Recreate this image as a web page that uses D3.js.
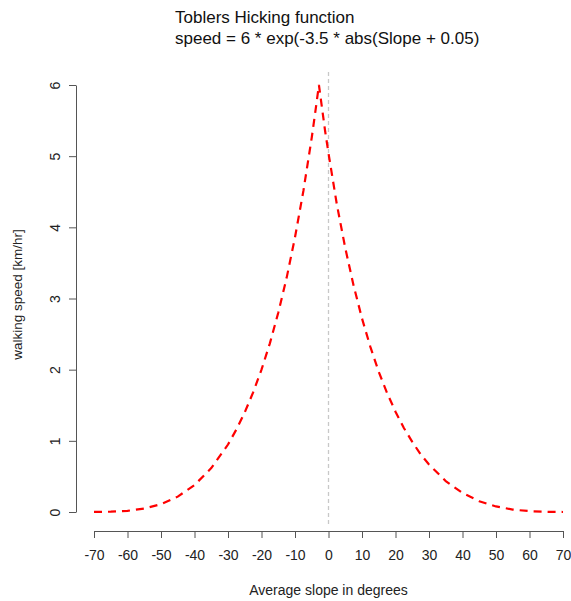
<!DOCTYPE html>
<html>
<head>
<meta charset="utf-8">
<script src="https://cdn.jsdelivr.net/npm/d3@7"></script>
<style>
  body { margin: 0; background: #fff; }
  svg { display: block; font-family: "Liberation Sans", Arial, sans-serif; }
</style>
</head>
<body>
<svg id="chart" width="571" height="601"></svg>
<script>
// slope (degrees) and walking speed (km/hr)
const slopes = [-70, -65, -60, -55, -50, -45, -40, -35, -30, -27.5, -25, -22.5, -20, -17.5, -15, -12.5, -10, -7.5, -5, -4, -2.86,
    -1, 0, 2.5, 5, 7.5, 10, 12.5, 15, 17.5, 20, 22.5, 25, 27.5, 30, 35, 40, 45, 50, 55, 60, 65, 70];
const speeds = [0.0005, 0.004, 0.017, 0.048, 0.11, 0.216, 0.379, 0.617, 0.948, 1.16, 1.40, 1.68, 2.00, 2.37, 2.80, 3.29, 3.86, 4.51, 5.26, 5.60, 6.0,
    5.35, 5.04, 4.32, 3.71, 3.18, 2.72, 2.32, 1.97, 1.67, 1.41, 1.18, 0.986, 0.81, 0.668, 0.435, 0.267, 0.152, 0.078, 0.034, 0.012, 0.003, 0.0003];
const xTicks = [-70, -60, -50, -40, -30, -20, -10, 0, 10, 20, 30, 40, 50, 60, 70];
const yTicks = [0, 1, 2, 3, 4, 5, 6];
const titleLines = ['Toblers Hicking function', 'speed = 6 * exp(-3.5 * abs(Slope + 0.05)'];

const svg = d3.select('#chart');
const axisColor = '#555';

const x = d3.scaleLinear().domain([-70, 70]).range([94, 563]);
const y = d3.scaleLinear().domain([0, 6]).range([512, 85]);

// title
svg.append('g')
    .selectAll('text')
    .data(titleLines)
    .join('text')
      .attr('x', 175)
      .attr('y', (d, i) => 23 + i * 21)
      .attr('font-size', 17)
      .attr('fill', '#111')
      .text(d => d);

// zero reference line
svg.append('line')
    .attr('x1', x(0)).attr('x2', x(0))
    .attr('y1', 72).attr('y2', 527)
    .attr('stroke', '#c8c8c8')
    .attr('stroke-width', 1.3)
    .attr('stroke-dasharray', '4,3');

// x axis, plain hyphen for negatives like the original
const xAxis = svg.append('g')
    .attr('transform', 'translate(0, 531)')
    .call(d3.axisBottom(x).tickValues(xTicks).tickSize(7).tickSizeOuter(0).tickPadding(12)
        .tickFormat(d => String(d)));
xAxis.select('.domain').attr('stroke', axisColor);
xAxis.selectAll('.tick line').attr('stroke', axisColor);
xAxis.selectAll('.tick text')
    .attr('font-size', 14)
    .attr('font-family', '"Liberation Sans", Arial, sans-serif')
    .attr('fill', '#222');

// y axis
const yAxis = svg.append('g')
    .attr('transform', 'translate(76, 0)')
    .call(d3.axisLeft(y).tickValues(yTicks).tickSize(7).tickSizeOuter(0).tickFormat(d => String(d)));
yAxis.select('.domain').attr('stroke', axisColor);
yAxis.selectAll('.tick line').attr('stroke', axisColor);
yAxis.selectAll('.tick text')
    .attr('font-size', 14)
    .attr('font-family', '"Liberation Sans", Arial, sans-serif')
    .attr('fill', '#222')
    .attr('x', null).attr('dy', null)
    .attr('text-anchor', 'middle')
    .attr('transform', 'translate(-21, 0) rotate(-90) translate(0, 5)');

// axis titles
svg.append('text')
    .attr('x', x(0)).attr('y', 595)
    .attr('text-anchor', 'middle')
    .attr('font-size', 14)
    .attr('fill', '#222')
    .text('Average slope in degrees');

svg.append('text')
    .attr('transform', `translate(22, ${y(3) - 4}) rotate(-90)`)
    .attr('text-anchor', 'middle')
    .attr('font-size', 13.5)
    .attr('fill', '#222')
    .text('walking speed [km/hr]');

// the curve
const line = d3.line()
    .x((d, i) => x(slopes[i]))
    .y(d => y(d));

svg.append('path')
    .datum(speeds)
    .attr('d', line)
    .attr('fill', 'none')
    .attr('stroke', '#ff0000')
    .attr('stroke-width', 2.2)
    .attr('stroke-dasharray', '8,6');
</script>
</body>
</html>
